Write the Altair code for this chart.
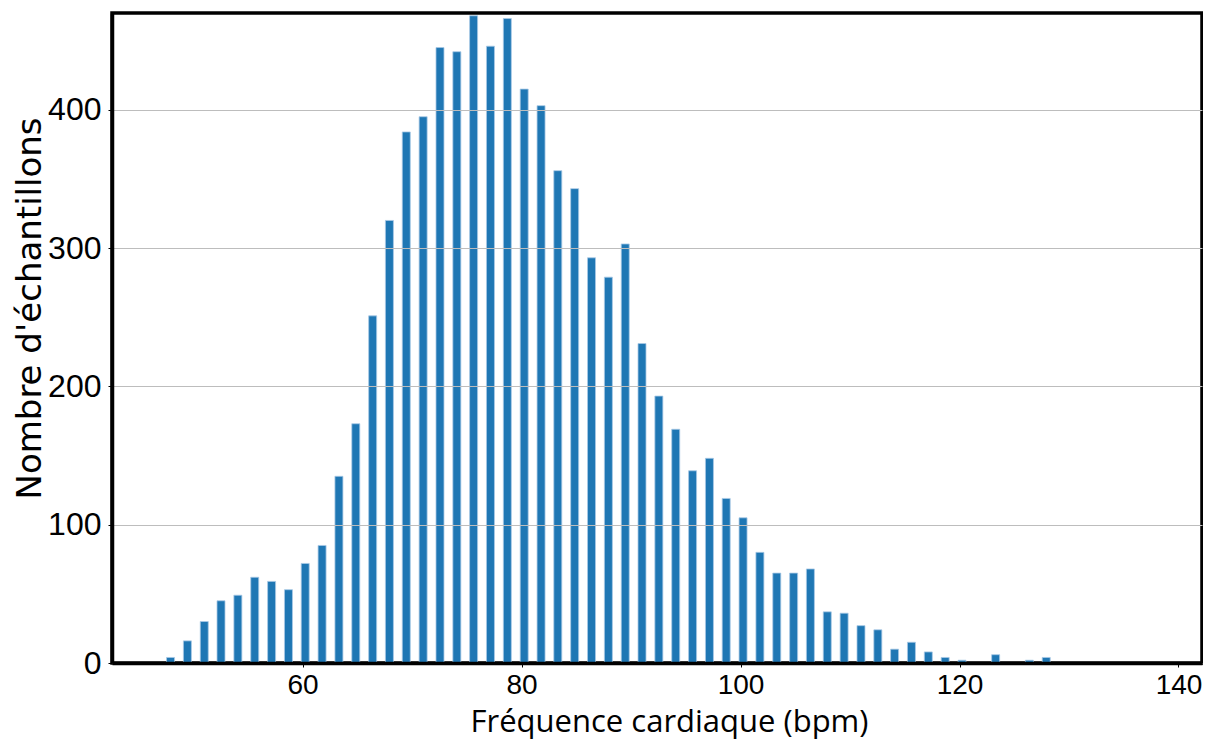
import altair as alt
import pandas as pd

# Bin centres (bpm) and sample counts
bin_centers = [47.94, 49.48, 51.02, 52.55, 54.09, 55.63, 57.17, 58.71, 60.24, 61.78,
               63.32, 64.86, 66.40, 67.93, 69.47, 71.01, 72.55, 74.09, 75.62, 77.16,
               78.70, 80.24, 81.78, 83.31, 84.85, 86.39, 87.93, 89.47, 91.00, 92.54,
               94.08, 95.62, 97.16, 98.69, 100.23, 101.77, 103.31, 104.85, 106.38, 107.92,
               109.46, 111.00, 112.54, 114.07, 115.61, 117.15, 118.69, 120.23, 121.76, 123.30,
               124.84, 126.38, 127.92]
counts = [4, 16, 30, 45, 49, 62, 59, 53, 72, 85,
          135, 173, 251, 320, 384, 395, 445, 442, 468, 446,
          466, 415, 403, 356, 343, 293, 279, 303, 231, 193,
          169, 139, 148, 119, 105, 80, 65, 65, 68, 37,
          36, 27, 24, 10, 15, 8, 4, 2, 0, 6,
          0, 2, 4]

x_ticks = [60, 80, 100, 120, 140]
y_ticks = [0, 100, 200, 300, 400]

df = pd.DataFrame({"bpm": bin_centers, "n": counts})
df = df[df["n"] > 0]

chart = alt.Chart(df).mark_bar(
    width=8, color="#1f77b4", stroke="#a9c9e6", strokeWidth=0.8
).encode(
    x=alt.X("bpm:Q",
            scale=alt.Scale(domain=[43.05, 141.69], nice=False, zero=False),
            axis=alt.Axis(values=x_ticks, title="Fréquence cardiaque (bpm)", grid=False,
                          labelFont="Liberation Sans", labelFontSize=28, labelColor="black",
                          labelPadding=4, tickSize=4, tickColor="black", tickWidth=1,
                          domain=True, domainColor="black", domainWidth=3.5, zindex=1,
                          titleFont="Open Sans", titleFontSize=31, titleFontWeight="normal",
                          titleColor="black", titleX=557, titleY=68,
                          titleBaseline="alphabetic", titleAlign="center")),
    y=alt.Y("n:Q",
            scale=alt.Scale(domain=[0, 470], nice=False),
            axis=alt.Axis(values=y_ticks, title="Nombre d'échantillons", grid=True,
                          gridColor="#bdbdbd", gridWidth=1, zindex=1,
                          labelFont="Liberation Sans", labelFontSize=32, labelColor="black",
                          labelPadding=7, tickSize=4, tickColor="black", tickWidth=1,
                          domain=True, domainColor="black", domainWidth=3.5,
                          titleFont="DejaVu Sans", titleFontSize=34, titleFontWeight="normal",
                          titleColor="black", titleX=-72, titleY=295, titleAngle=-90,
                          titleBaseline="alphabetic", titleAlign="center")),
).properties(
    width=1090, height=650,
    autosize=alt.AutoSizeParams(type="none"),
    padding={"left": 104, "top": 5, "right": 1, "bottom": 78},
).configure(
    background="white",
    view=alt.ViewConfig(stroke="black", strokeWidth=3.5),
)

chart.save("out.html", embed_options={"renderer": "svg", "actions": False})
